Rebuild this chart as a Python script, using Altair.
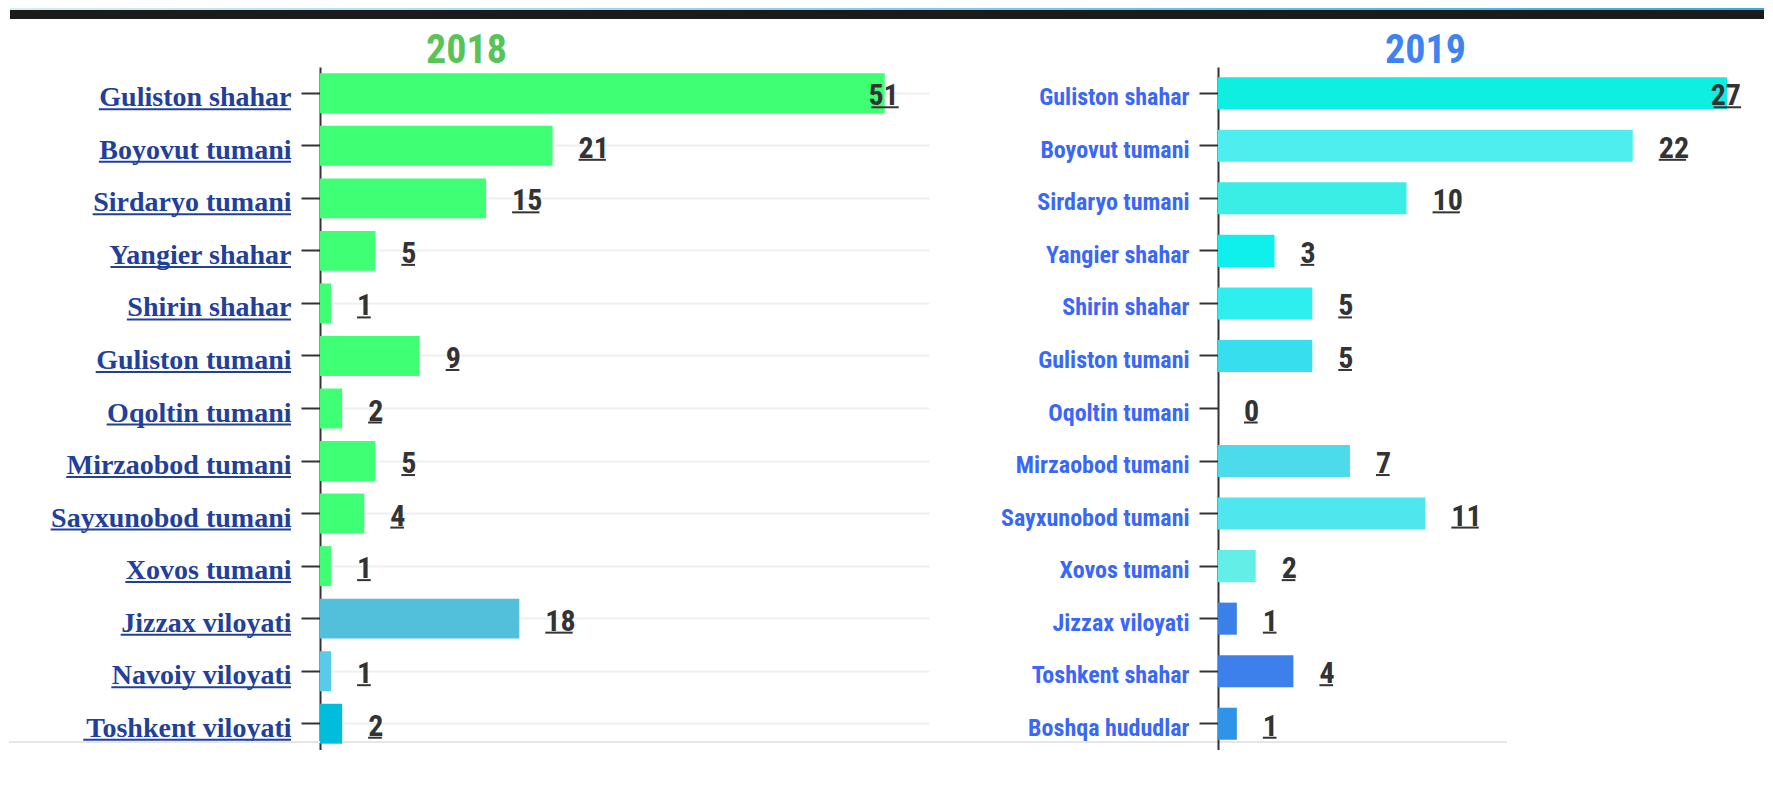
import altair as alt
import pandas as pd

# ---------------- data ----------------
regions_2018 = ["Guliston shahar", "Boyovut tumani", "Sirdaryo tumani", "Yangier shahar",
                "Shirin shahar", "Guliston tumani", "Oqoltin tumani", "Mirzaobod tumani",
                "Sayxunobod tumani", "Xovos tumani", "Jizzax viloyati", "Navoiy viloyati",
                "Toshkent viloyati"]
values_2018 = [51, 21, 15, 5, 1, 9, 2, 5, 4, 1, 18, 1, 2]

regions_2019 = ["Guliston shahar", "Boyovut tumani", "Sirdaryo tumani", "Yangier shahar",
                "Shirin shahar", "Guliston tumani", "Oqoltin tumani", "Mirzaobod tumani",
                "Sayxunobod tumani", "Xovos tumani", "Jizzax viloyati", "Toshkent shahar",
                "Boshqa hududlar"]
values_2019 = [27, 22, 10, 3, 5, 5, 0, 7, 11, 2, 1, 4, 1]

palette_2018 = ["#3fff75"] * 10 + ["#52bfdb", "#57cbe8", "#00bedb"]
palette_2019 = ["#0eefe1", "#4eeeee", "#3aeee6", "#0ff0ec", "#2eeeee", "#36deee",
                "#4cdbeb", "#4cdbeb", "#50e6ee", "#63efe8", "#3b7fe9", "#3d80ec", "#2f94e8"]

# ---------------- style ----------------
NARROW = "Roboto Condensed, Liberation Sans Narrow, sans-serif"
SERIF = "Liberation Serif"
H = 683
LEFT_W, LEFT_MAX = 609, 55
RIGHT_W, RIGHT_MAX = 509, 27
LEFT_EXT, RIGHT_EXT = 312, 289
GAP = 289            # space between the 2018 plot and the 2019 plot
TICK, LPAD = 19, 10
LABEL_GAP = TICK + LPAD
SERIF_SIZE = 28
VAL_SIZE = 30
DIGIT_EM = 0.456

TIMES_BOLD = {" ": 250, "B": 667, "G": 778, "J": 500, "M": 944, "N": 722, "O": 778,
              "S": 556, "T": 667, "X": 722, "Y": 722, "a": 500, "b": 556, "d": 556,
              "e": 444, "g": 500, "h": 556, "i": 278, "k": 556, "l": 278, "m": 833,
              "n": 556, "o": 500, "q": 556, "r": 444, "s": 389, "t": 333, "u": 556,
              "v": 500, "x": 500, "y": 500, "z": 444}
KERN = {("Y", "a"): -190}


def serif_width(s, size):
    w = sum(TIMES_BOLD.get(c, 500) for c in s)
    w += sum(KERN.get((a, b), 0) for a, b in zip(s, s[1:]))
    return w / 1000 * size


W1 = DIGIT_EM * VAL_SIZE
W2 = 2 * DIGIT_EM * VAL_SIZE

one = pd.DataFrame({"k": [0]})


def year_axis(year, color, center):
    return alt.Axis(orient="top", title=year, titleFont=NARROW, titleFontSize=40,
                    titleFontWeight="bold", titleColor=color, titleX=center, titleY=-5,
                    titleAlign="center", titleBaseline="alphabetic", titleAngle=0,
                    labels=False, ticks=False, domain=False, grid=False)


def value_layers(base, xscale, xaxis):
    enr = base.transform_joinaggregate(mx="max(v)").transform_calculate(
        ismax="datum.v == datum.mx")
    xenc = alt.X("v:Q", scale=xscale, axis=xaxis)
    tc = dict(font=NARROW, fontWeight="bold", fontSize=VAL_SIZE, color="#333333",
              baseline="alphabetic", dy=12)
    rc = dict(color="#333333", strokeWidth=2, yOffset=14)
    t_norm = enr.transform_filter("!datum.ismax").mark_text(align="left", dx=26, **tc).encode(
        x=xenc, text="v:Q")
    t_max = enr.transform_filter("datum.ismax").mark_text(align="right", dx=14, **tc).encode(
        x=xenc, text="v:Q")
    u1 = enr.transform_filter("!datum.ismax && datum.v < 10").mark_rule(
        xOffset=26, x2Offset=26 + W1, **rc).encode(x=xenc, x2="v:Q")
    u2 = enr.transform_filter("!datum.ismax && datum.v >= 10").mark_rule(
        xOffset=26, x2Offset=26 + W2, **rc).encode(x=xenc, x2="v:Q")
    u3 = enr.transform_filter("datum.ismax").mark_rule(
        xOffset=14 - W2, x2Offset=14, **rc).encode(x=xenc, x2="v:Q")
    return [t_norm, t_max, u1, u2, u3]


# ---------------- page decorations (drawn inside the 2018 panel) ----------------
BANNER_RIGHT = 1444
strip = alt.Chart(one).mark_rect(
    color={"gradient": "linear", "x1": 0, "x2": 1, "y1": 0, "y2": 0,
           "stops": [{"offset": 0, "color": "#d4edf8"}, {"offset": 1, "color": "#2aaee6"}]}
).encode(x=alt.value(-310), x2=alt.value(BANNER_RIGHT), y=alt.value(-59), y2=alt.value(-57))
dark = alt.Chart(one).mark_rect(color="#1b1b1b").encode(
    x=alt.value(-310), x2=alt.value(BANNER_RIGHT), y=alt.value(-57), y2=alt.value(-48))
bottom_line = alt.Chart(one).mark_rule(color="#e6e6e6", strokeWidth=2).encode(
    x=alt.value(-311), x2=alt.value(1187), y=alt.value(675))

# ---------------- 2018 panel ----------------
ppu18 = LEFT_W / LEFT_MAX
df18 = pd.DataFrame({"region": regions_2018, "v": values_2018})
df18["ul0"] = [-(LABEL_GAP + serif_width(r, SERIF_SIZE)) / ppu18 for r in regions_2018]
df18["ul1"] = -LABEL_GAP / ppu18

x18 = alt.Scale(domain=[0, LEFT_MAX])
xaxis18 = year_axis("2018", "#58c458", 146)
yaxis18 = alt.Axis(title=None, labelFont=SERIF, labelFontWeight="bold", labelFontSize=SERIF_SIZE,
                   labelColor="#22409a", labelPadding=LPAD, labelBaseline="alphabetic",
                   labelOffset=13, labelLimit=400, tickSize=TICK, tickWidth=2, tickColor="#333333",
                   domainColor="#333333", domainWidth=2, grid=True, gridColor="#efefef",
                   gridWidth=2, bandPosition=0.5, minExtent=LEFT_EXT, maxExtent=LEFT_EXT)
base18 = alt.Chart(df18).encode(
    y=alt.Y("region:N", sort=regions_2018, title=None,
            scale=alt.Scale(paddingInner=0.24, paddingOuter=0.12), axis=yaxis18))

bars18 = base18.mark_bar().encode(
    x=alt.X("v:Q", scale=x18, axis=xaxis18),
    color=alt.Color("region:N", scale=alt.Scale(domain=regions_2018, range=palette_2018), legend=None))
ul18 = base18.mark_rule(color="#22409a", strokeWidth=2, yOffset=16).encode(
    x=alt.X("ul0:Q", scale=x18, axis=xaxis18), x2="ul1:Q")

left = alt.layer(strip, dark, bottom_line, bars18, ul18,
                 *value_layers(base18, x18, xaxis18)).properties(width=LEFT_W, height=H)

# ---------------- 2019 panel ----------------
df19 = pd.DataFrame({"region": regions_2019, "v": values_2019})
x19 = alt.Scale(domain=[0, RIGHT_MAX])
xaxis19 = year_axis("2019", "#3e83ef", 207)
yaxis19 = alt.Axis(title=None, labelFont=NARROW, labelFontWeight="bold", labelFontSize=24,
                   labelColor="#3a67f7", labelPadding=LPAD, labelBaseline="alphabetic",
                   labelOffset=12, labelLimit=400, tickSize=TICK, tickWidth=2, tickColor="#333333",
                   domainColor="#333333", domainWidth=2, grid=False, bandPosition=0.5,
                   minExtent=RIGHT_EXT, maxExtent=RIGHT_EXT)
base19 = alt.Chart(df19).encode(
    y=alt.Y("region:N", sort=regions_2019, title=None,
            scale=alt.Scale(paddingInner=0.39, paddingOuter=0.195), axis=yaxis19))

bars19 = base19.mark_bar().encode(
    x=alt.X("v:Q", scale=x19, axis=xaxis19),
    color=alt.Color("region:N", scale=alt.Scale(domain=regions_2019, range=palette_2019), legend=None))

right = alt.layer(bars19, *value_layers(base19, x19, xaxis19)).properties(width=RIGHT_W, height=H)

chart = alt.hconcat(left, right, spacing=GAP, bounds="flush").resolve_scale(
    color="independent", x="independent", y="independent"
).properties(padding=0, background="white").configure_view(strokeWidth=0)

chart.save("out.html", embed_options={"renderer": "svg", "actions": False})
